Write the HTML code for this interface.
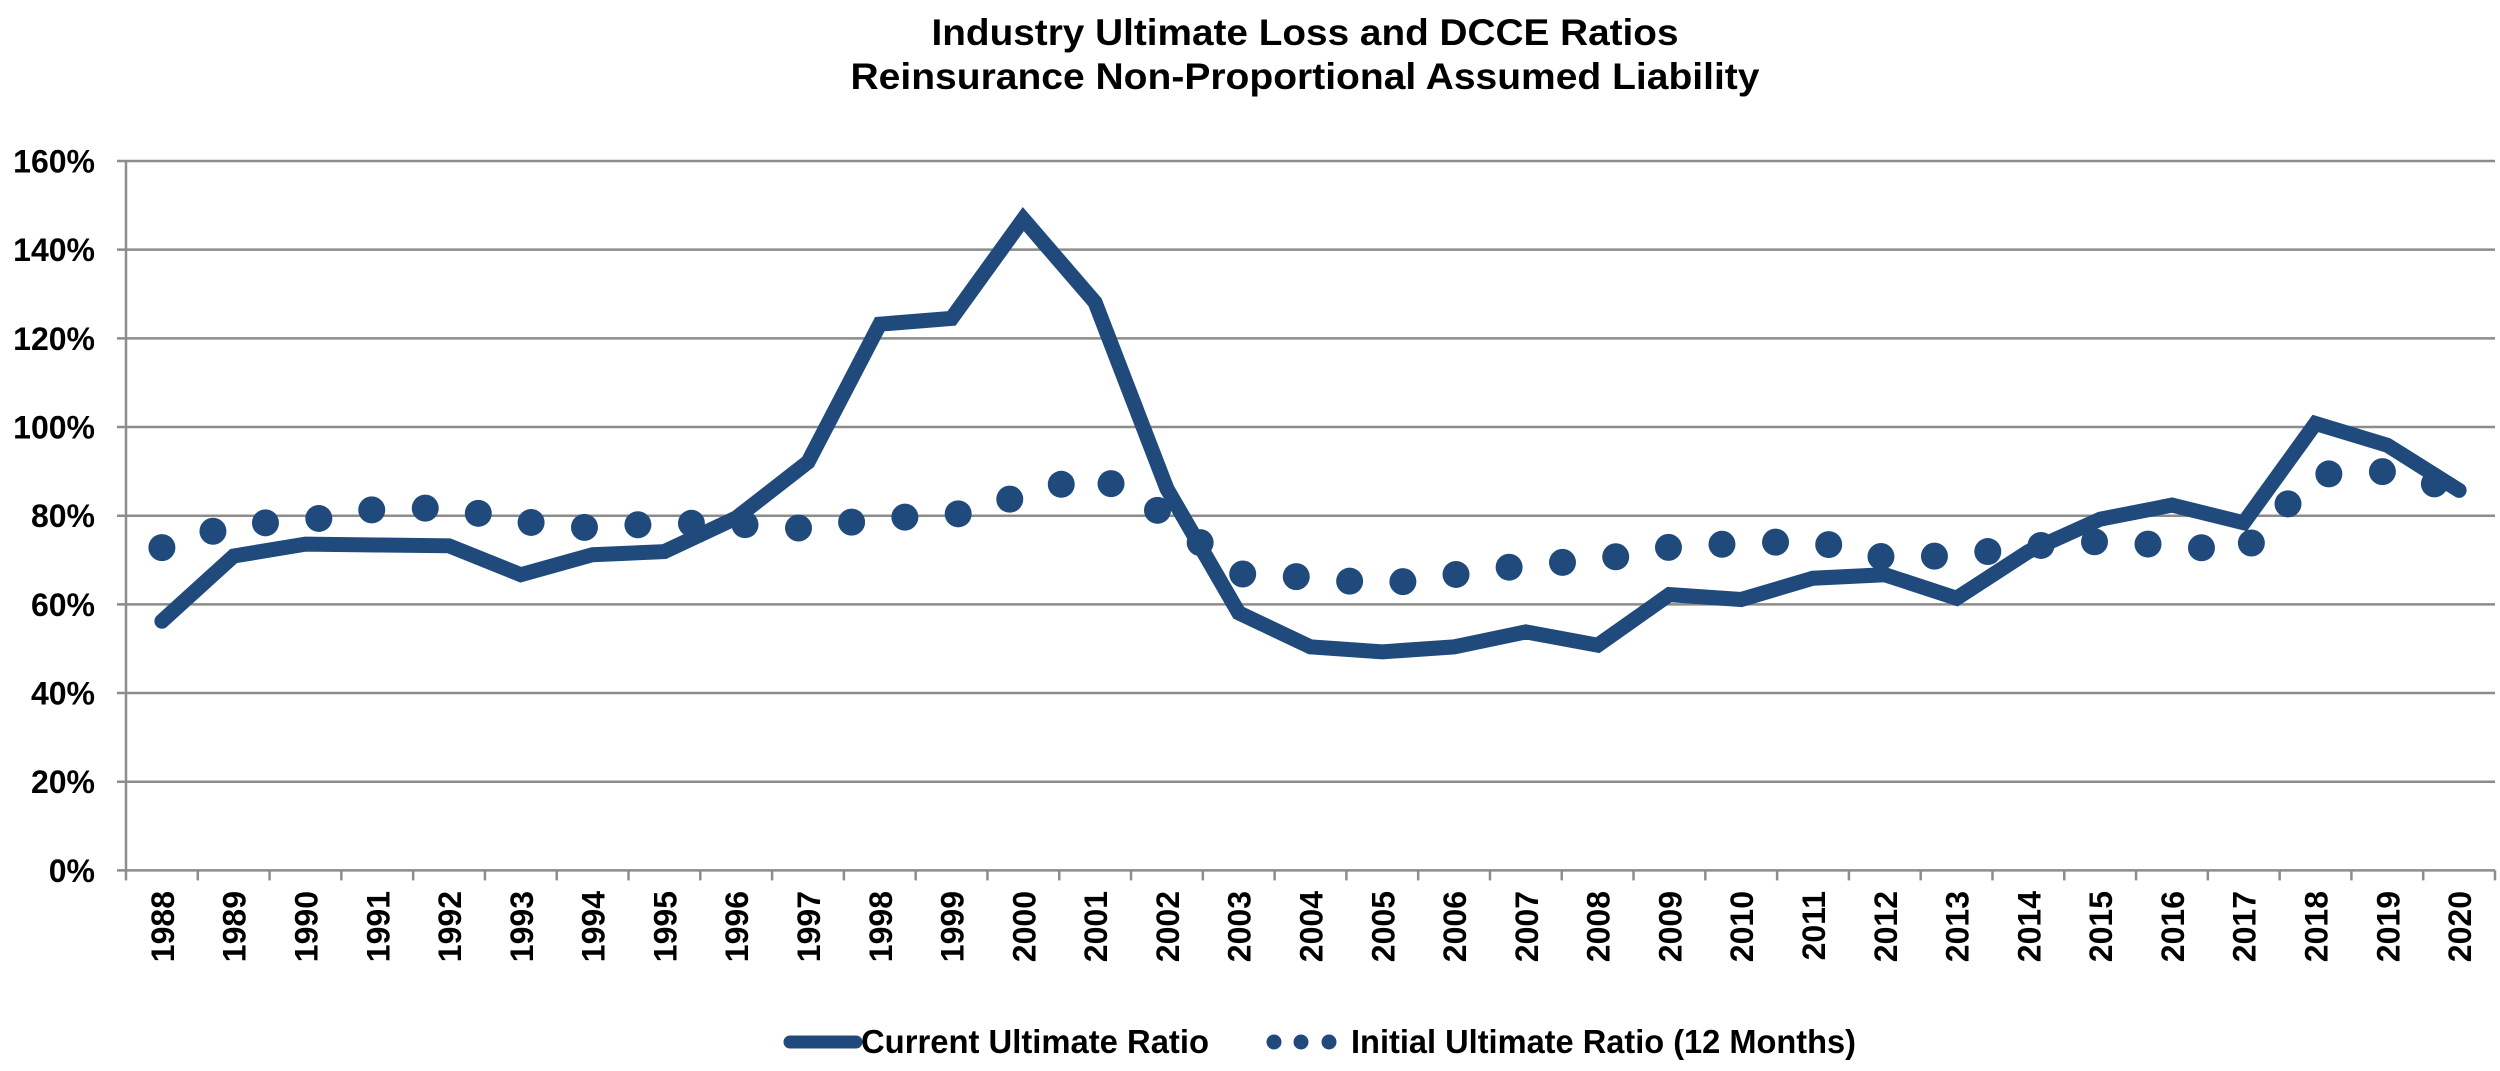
<!DOCTYPE html>
<html><head><meta charset="utf-8"><style>
html,body{margin:0;padding:0;background:#fff;}
svg{display:block;font-family:"Liberation Sans",Arial,sans-serif;font-weight:bold;}
</style></head><body>
<svg id="chart" width="2500" height="1071" viewBox="0 0 2500 1071" xmlns="http://www.w3.org/2000/svg">
<text x="1305" y="45" text-anchor="middle" font-size="37" textLength="747" lengthAdjust="spacingAndGlyphs">Industry Ultimate Loss and DCCE Ratios</text>
<text x="1305" y="89" text-anchor="middle" font-size="37" textLength="909" lengthAdjust="spacingAndGlyphs">Reinsurance Non-Proportional Assumed Liability</text>
<g id="grid"></g>
<g id="yaxis"></g>
<g id="xaxis"></g>
<g id="series"></g>
<g>
  <g>
    <line x1="790" y1="1042" x2="856" y2="1042" stroke="#204a7c" stroke-width="13" stroke-linecap="round"/>
    <text x="861" y="1053" font-size="33" textLength="348" lengthAdjust="spacingAndGlyphs">Current Ultimate Ratio</text>
  </g>
  <g>
    <circle cx="1274" cy="1042" r="7.5" fill="#204a7c"/>
    <circle cx="1301" cy="1042" r="7.5" fill="#204a7c"/>
    <circle cx="1329" cy="1042" r="7.5" fill="#204a7c"/>
    <text x="1351" y="1053" font-size="33" textLength="505" lengthAdjust="spacingAndGlyphs">Initial Ultimate Ratio (12 Months)</text>
  </g>
</g>
</svg>
<script>
const years = [1988,1989,1990,1991,1992,1993,1994,1995,1996,1997,1998,1999,2000,2001,2002,2003,2004,2005,2006,2007,2008,2009,2010,2011,2012,2013,2014,2015,2016,2017,2018,2019,2020];
const currentRatio = [56.2,70.9,73.6,73.4,73.2,66.7,71.2,71.9,79.5,92.1,123.2,124.5,146.9,128.1,86.1,58.1,50.4,49.3,50.4,53.8,50.8,62.2,61.1,65.9,66.7,61.4,71.9,79.2,82.4,78.4,100.8,95.9,85.7];
const initialRatio = [72.8,78.0,78.9,81.5,81.8,78.7,77.2,78.4,78.1,77.1,79.5,80.0,84.6,89.3,80.0,66.9,66.1,64.5,66.7,68.9,70.0,72.9,73.8,74.3,70.6,71.0,73.1,74.2,73.3,72.0,89.3,90.0,85.7];
const yTicks = [0,20,40,60,80,100,120,140,160];
const yTickLabels = ["0%","20%","40%","60%","80%","100%","120%","140%","160%"];

const NS = "http://www.w3.org/2000/svg";
const L = 126, R = 2495, T = 161, B = 870.4, YMAX = 160;
const step = (R - L) / years.length;
function xPos(i){ return L + (i + 0.5) * step; }
function yPos(v){ return B - (v / YMAX) * (B - T); }
function mk(tag, attrs, parent){
  const e = document.createElementNS(NS, tag);
  for (const k in attrs) e.setAttribute(k, attrs[k]);
  parent.appendChild(e);
  return e;
}
const grid = document.getElementById('grid');
const yaxis = document.getElementById('yaxis');
const xaxis = document.getElementById('xaxis');
const series = document.getElementById('series');

yTicks.forEach((v, i) => {
  const y = yPos(v);
  const gl = mk('line', {x1: 117, x2: R, y1: y, y2: y, stroke: '#8c8c8c', 'stroke-width': 2.5}, grid);
  
  
  const t = mk('text', {x: 95, y: y + 11.5, 'text-anchor': 'end', 'font-size': 32}, yaxis);
  t.textContent = yTickLabels[i];
  
  
});
const ya = mk('line', {x1: L, x2: L, y1: T, y2: B, stroke: '#8c8c8c', 'stroke-width': 2.5}, yaxis);



for (let i = 0; i <= years.length; i++) {
  const x = L + i * step;
  const tk = mk('line', {x1: x, x2: x, y1: B, y2: B + 10, stroke: '#8c8c8c', 'stroke-width': 2.5}, xaxis);
  
  
}
years.forEach((yr, i) => {
  const bx = xPos(i) + 12;
  const t = mk('text', {x: bx, y: 891, 'text-anchor': 'end', 'font-size': 32, transform: 'rotate(-90 ' + bx + ' 891)'}, xaxis);
  t.textContent = yr;
  
  
});

const pts2 = initialRatio.map((v, i) => xPos(i).toFixed(1) + ',' + yPos(v).toFixed(1)).join(' ');
const p2 = mk('polyline', {points: pts2, fill: 'none', stroke: '#204a7c', 'stroke-width': 27, 'stroke-linecap': 'round', 'stroke-linejoin': 'round', 'stroke-dasharray': '0 53.6'}, series);



const pts1 = currentRatio.map((v, i) => xPos(i).toFixed(1) + ',' + yPos(v).toFixed(1)).join(' ');
const p1 = mk('polyline', {points: pts1, fill: 'none', stroke: '#204a7c', 'stroke-width': 15, 'stroke-linecap': 'round', 'stroke-linejoin': 'miter'}, series);


</script>
</body></html>
